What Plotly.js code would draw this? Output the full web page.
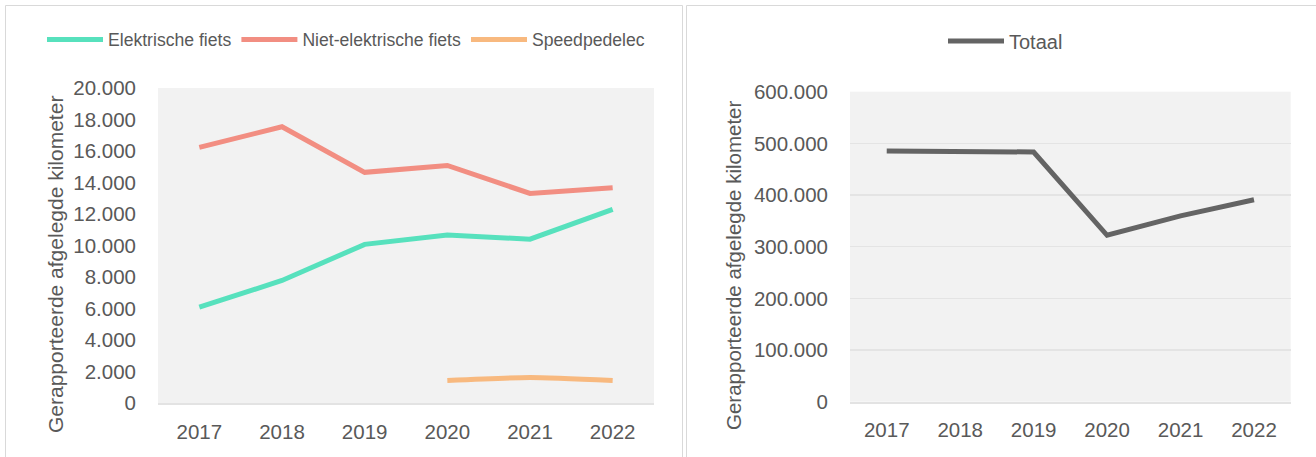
<!DOCTYPE html>
<html>
<head>
<meta charset="utf-8">
<script src="https://cdn.plot.ly/plotly-3.0.1.min.js"></script>
<style>
  html, body { margin: 0; padding: 0; background: #ffffff; }
  #chart { width: 1316px; height: 457px; }
</style>
</head>
<body>
<div id="chart"></div>
<script>
// Jaren op de x-as
const years = ['2017', '2018', '2019', '2020', '2021', '2022'];

// Gerapporteerde afgelegde kilometers per type fiets
const elektrischeFiets = [6100, 7790, 10080, 10670, 10410, 12300];
const nietElektrischeFiets = [16230, 17540, 14650, 15090, 13310, 13670];
const speedpedelec = [null, null, null, 1440, 1630, 1440];

// Totaal gerapporteerde afgelegde kilometers
const totaal = [485200, 485300, 483300, 322100, 359600, 390900];

// Aslabels
const yTitle = 'Gerapporteerde afgelegde kilometer';

const W = 1316, H = 457;
const px = v => v / W;
const py = v => 1 - v / H;

const FONT = '"Liberation Sans", Arial, sans-serif';
const TEXT = '#595959';

const traces = [
  {
    x: years, y: elektrischeFiets, name: 'Elektrische fiets',
    type: 'scatter', mode: 'lines',
    line: { color: '#57E1BD', width: 5 },
    xaxis: 'x', yaxis: 'y', legend: 'legend'
  },
  {
    x: years, y: nietElektrischeFiets, name: 'Niet-elektrische fiets',
    type: 'scatter', mode: 'lines',
    line: { color: '#F28E82', width: 5 },
    xaxis: 'x', yaxis: 'y', legend: 'legend'
  },
  {
    x: years, y: speedpedelec, name: 'Speedpedelec',
    type: 'scatter', mode: 'lines',
    line: { color: '#F8B97F', width: 5, shape: 'spline', smoothing: 0.6 },
    xaxis: 'x', yaxis: 'y', legend: 'legend'
  },
  {
    x: years, y: totaal, name: 'Totaal',
    type: 'scatter', mode: 'lines',
    line: { color: '#646464', width: 5 },
    xaxis: 'x2', yaxis: 'y2', legend: 'legend2'
  }
];

const xCommon = {
  type: 'category',
  range: [-0.5, 5.5],
  showgrid: false,
  zeroline: false,
  showline: true,
  linecolor: '#e3e3e3',
  linewidth: 2,
  ticks: '',
  ticklabelstandoff: 9,
  tickfont: { family: FONT, size: 20.5, color: TEXT },
  fixedrange: true
};

const layout = {
  width: W,
  height: H,
  margin: { l: 0, r: 0, t: 0, b: 0 },
  paper_bgcolor: '#ffffff',
  plot_bgcolor: '#F2F2F2',
  separators: ',.',
  font: { family: FONT, color: TEXT },
  showlegend: true,

  xaxis: Object.assign({}, xCommon, {
    domain: [px(158), px(654)],
    anchor: 'y'
  }),
  yaxis: {
    domain: [py(403.3), py(88)],
    anchor: 'x',
    range: [0, 20000],
    dtick: 2000,
    tickformat: ',d',
    showgrid: false,
    zeroline: false,
    showline: false,
    ticks: '',
    ticklabelstandoff: 21,
    tickfont: { family: FONT, size: 20.5, color: TEXT },
    fixedrange: true
  },

  xaxis2: Object.assign({}, xCommon, {
    domain: [px(850), px(1290.7)],
    anchor: 'y2'
  }),
  yaxis2: {
    domain: [py(401.7), py(91.7)],
    anchor: 'x2',
    range: [0, 600000],
    dtick: 100000,
    tickformat: ',d',
    showgrid: true,
    gridcolor: '#E4E4E4',
    gridwidth: 1.5,
    zeroline: false,
    showline: false,
    ticks: '',
    ticklabelstandoff: 21,
    tickfont: { family: FONT, size: 20.5, color: TEXT },
    fixedrange: true
  },

  legend: {
    orientation: 'h',
    x: px(42), xanchor: 'left',
    y: py(39.5), yanchor: 'middle',
    bgcolor: 'rgba(0,0,0,0)',
    itemwidth: 56,
    font: { family: FONT, size: 17.6, color: TEXT },
    traceorder: 'normal'
  },
  legend2: {
    orientation: 'h',
    x: px(943), xanchor: 'left',
    y: py(41), yanchor: 'middle',
    bgcolor: 'rgba(0,0,0,0)',
    itemwidth: 56,
    font: { family: FONT, size: 20, color: TEXT }
  },

  annotations: [
    {
      text: yTitle, textangle: -90,
      xref: 'paper', yref: 'paper',
      x: px(55), y: py(265), xanchor: 'center', yanchor: 'middle',
      showarrow: false,
      font: { family: FONT, size: 21, color: TEXT }
    },
    {
      text: yTitle, textangle: -90,
      xref: 'paper', yref: 'paper',
      x: px(733), y: py(265), xanchor: 'center', yanchor: 'middle',
      showarrow: false,
      font: { family: FONT, size: 20.5, color: TEXT }
    }
  ],

  // Kaders rond beide grafieken
  shapes: [
    {
      type: 'rect', xref: 'paper', yref: 'paper', layer: 'below',
      x0: px(5.5), x1: px(682.5), y0: py(470), y1: py(5.5),
      line: { color: '#D9D9D9', width: 1 }, fillcolor: 'rgba(0,0,0,0)'
    },
    {
      type: 'rect', xref: 'paper', yref: 'paper', layer: 'below',
      x0: px(686.5), x1: px(1330), y0: py(470), y1: py(5.5),
      line: { color: '#D9D9D9', width: 1 }, fillcolor: 'rgba(0,0,0,0)'
    }
  ]
};

Plotly.newPlot('chart', traces, layout, { displayModeBar: false, staticPlot: true });
</script>
</body>
</html>
